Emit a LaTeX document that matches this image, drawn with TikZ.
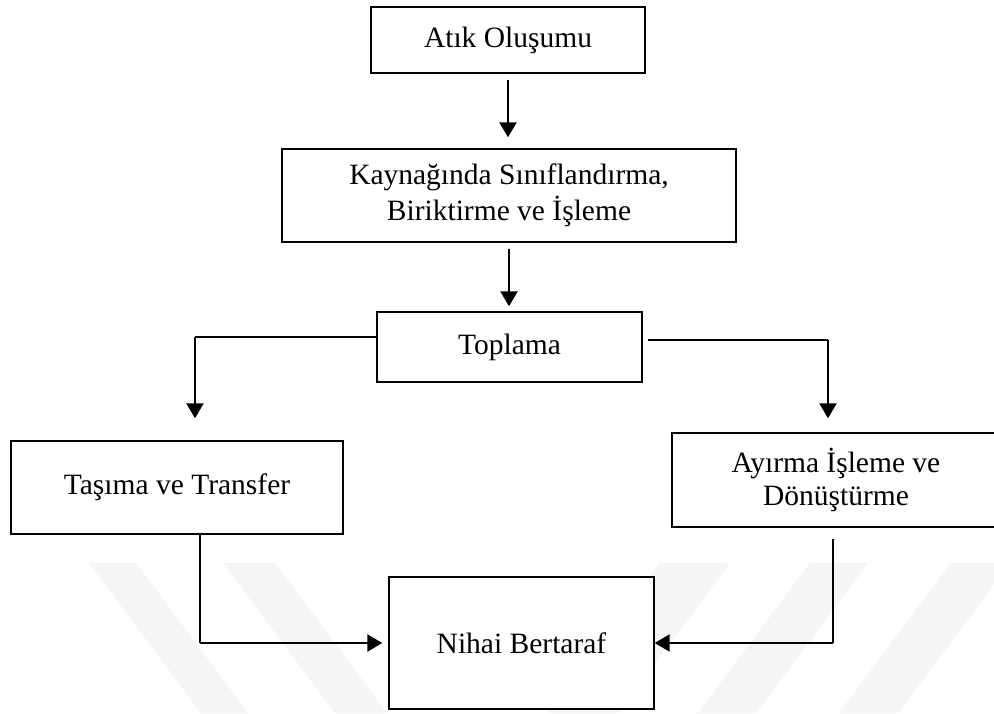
\documentclass[tikz,border=0pt]{standalone}
\usepackage{fontspec}
\setmainfont{Liberation Serif}
\usetikzlibrary{arrows.meta}
\begin{document}
\begin{tikzpicture}[x=1pt,y=-1pt,
  box/.style={draw, line width=1.4pt, inner sep=0pt, align=center, font=\fontsize{29.5}{36}\selectfont},
  arr/.style={line width=2.4pt, -{Triangle[length=15pt,width=17pt]}},
  link/.style={line width=1.4pt},
  wm/.style={fill=black!4, draw=none}]
\useasboundingbox (0,0) rectangle (994,713);
\fill[white] (0,0) rectangle (994,713);
% faint watermark stripes
\fill[wm] (89,563) -- (136,563) -- (248,713) -- (201,713) -- cycle;
\fill[wm] (223,563) -- (275,563) -- (387,713) -- (335,713) -- cycle;
\fill[wm] (660,563) -- (730,563) -- (618,713) -- (548,713) -- cycle;
\fill[wm] (810,563) -- (868,563) -- (756,713) -- (698,713) -- cycle;
\fill[wm] (951,563) -- (1010,563) -- (898,713) -- (839,713) -- cycle;
% boxes
\node[box, minimum width=274pt, minimum height=66pt] (b1) at (508,40) {Atık Oluşumu};
\node[box, minimum width=454pt, minimum height=93pt] (b2) at (509,195.5) {Kaynağında Sınıflandırma,\\Biriktirme ve İşleme};
\node[box, minimum width=265pt, minimum height=70pt] (b3) at (509.5,347) {Toplama};
\node[box, minimum width=332pt, minimum height=93pt] (b4) at (177,487.5) {Taşıma ve Transfer};
\node[box, minimum width=328pt, minimum height=94pt, font=\fontsize{29.5}{33}\selectfont] (b5) at (836,480) {Ayırma İşleme ve\\Dönüştürme};
\node[box, fill=white, minimum width=265pt, minimum height=132pt] (b6) at (521.5,643) {Nihai Bertaraf};
% connectors
\draw[arr, shorten <=6pt, shorten >=11pt] (b1.south) -- (b1.south |- b2.north);
\draw[arr, shorten <=6pt, shorten >=5pt] (b2.south) -- (b2.south |- b3.north);
\coordinate (l1) at (195,337);
\draw[link] (b3.west |- l1) -- (l1);
\draw[arr, shorten >=22pt] (l1) -- (l1 |- b4.north);
\coordinate (r1) at (828,340);
\draw[link, shorten <=5pt] (b3.east |- r1) -- (r1);
\draw[arr, shorten >=14pt] (r1) -- (r1 |- b5.north);
\coordinate (l2) at (200,643);
\draw[link] (b4.south -| l2) -- (l2);
\draw[arr, shorten >=6pt] (l2) -- (b6.west);
\coordinate (r2) at (833,643);
\draw[link, shorten <=11pt] (b5.south -| r2) -- (r2);
\draw[arr] (r2) -- (b6.east);
\end{tikzpicture}
\end{document}
